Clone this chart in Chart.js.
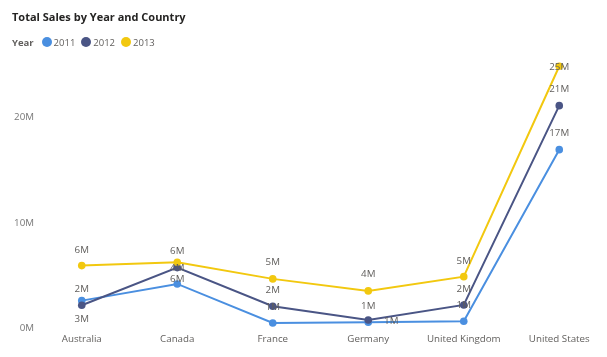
<!DOCTYPE html>
<html>
<head>
<meta charset="utf-8">
<script src="https://cdn.jsdelivr.net/npm/chart.js@4"></script>
<style>
  html, body { margin: 0; padding: 0; background: #fff; }
  body { width: 607px; height: 357px; position: relative; overflow: hidden; font-family: "Open Sans", "Noto Sans", sans-serif; }
  #title { position: absolute; left: 12px; top: 9px; font-size: 11px; line-height: 15px; font-weight: 700; color: #252423; white-space: nowrap; }
  #legend { position: absolute; left: 12px; top: 34px; font-size: 9.5px; color: #605E5C; white-space: nowrap; display: flex; align-items: center; height: 16px; }
  #legend .ttl { font-weight: 700; color: #605E5C; margin-right: 8px; }
  #legend .it { display: flex; align-items: center; margin-right: 6px; }
  #legend .dot { width: 10px; height: 10px; border-radius: 50%; display: inline-block; margin-right: 2px; }
  #wrap { position: absolute; left: 0; top: 0; width: 607px; height: 357px; }
</style>
</head>
<body>
<div id="wrap"><canvas id="c" width="607" height="357"></canvas></div>
<div id="title">Total Sales by Year and Country</div>
<div id="legend"></div>
<script>
const categories = ["Australia", "Canada", "France", "Germany", "United Kingdom", "United States"];
const years = ["2011", "2012", "2013"];
const sales2011 = [2.64e6, 4.22e6, 0.52e6, 0.59e6, 0.68e6, 16.94e6];
const sales2012 = [2.20e6, 5.77e6, 2.11e6, 0.81e6, 2.23e6, 21.11e6];
const sales2013 = [5.96e6, 6.28e6, 4.70e6, 3.56e6, 4.91e6, 24.84e6];
const yTickValues = [0, 10e6, 20e6];

const colors = ["#4A8FE0", "#4A5585", "#F2C80F"];
// label placement (dx, dy in px relative to the point)
const labelOffsets = [
  [[0, 18.6], [0, -15.7], [0, -15.7], [23, -1], [0, -16.3], [0, -16]],
  [[0, -16], [0, 11.6], [0, -16], [0, -14], [0, -16], [0, -16.7]],
  [[0, -15.7], [0, -11], [0, -16.7], [0, -16.7], [0, -15.7], [0, 0.6]]
];

const FONT = '"Open Sans", "Noto Sans", sans-serif';

// HTML legend
const lg = document.getElementById('legend');
lg.innerHTML = '<span class="ttl">Year</span>' + years.map((y, i) =>
  '<span class="it"><span class="dot" style="background:' + colors[i] + '"></span>' + y + '</span>').join('');

const fmtM = v => Math.round(v / 1e6) + 'M';

const dataLabelPlugin = {
  id: 'dataLabels',
  afterDatasetsDraw(chart) {
    const ctx = chart.ctx;
    ctx.save();
    ctx.font = '9.75px ' + FONT;
    ctx.fillStyle = '#605E5C';
    ctx.textAlign = 'center';
    ctx.textBaseline = 'middle';
    chart.data.datasets.forEach((ds, di) => {
      const meta = chart.getDatasetMeta(di);
      meta.data.forEach((pt, i) => {
        const off = labelOffsets[di][i];
        ctx.fillText(fmtM(ds.data[i]), pt.x + off[0], pt.y + off[1]);
      });
    });
    ctx.restore();
  }
};

const seriesData = [sales2011, sales2012, sales2013];
new Chart(document.getElementById('c'), {
  type: 'line',
  data: {
    labels: categories,
    datasets: seriesData.map((d, i) => ({
      label: years[i],
      data: d,
      borderColor: colors[i],
      backgroundColor: colors[i],
      pointBackgroundColor: colors[i],
      pointBorderColor: colors[i],
      borderWidth: 2,
      pointBorderWidth: 0,
      pointRadius: 3.8,
      pointHoverRadius: 3.8,
      tension: 0,
      fill: false,
      clip: false,
      order: 3 - i
    }))
  },
  options: {
    responsive: false,
    animation: false,
    layout: { autoPadding: false, padding: { top: 54, left: 0, right: 0, bottom: 0 } },
    plugins: { legend: { display: false }, tooltip: { enabled: false }, title: { display: false } },
    scales: {
      x: {
        offset: true,
        grid: { display: false, drawTicks: false },
        border: { display: false },
        ticks: { color: '#605E5C', font: { family: FONT, size: 9.75 }, padding: 5, maxRotation: 0, autoSkip: false },
        afterFit(s) { s.height = 28.5; }
      },
      y: {
        min: 0,
        max: 26e6,
        grid: { display: false, drawTicks: false },
        border: { display: false },
        afterBuildTicks(s) { s.ticks = yTickValues.map(v => ({ value: v })); },
        ticks: { color: '#777777', font: { family: FONT, size: 9.75 }, padding: 0, callback: v => fmtM(v) },
        afterFit(s) { s.width = 34; }
      }
    }
  },
  plugins: [dataLabelPlugin]
});
</script>
</body>
</html>
